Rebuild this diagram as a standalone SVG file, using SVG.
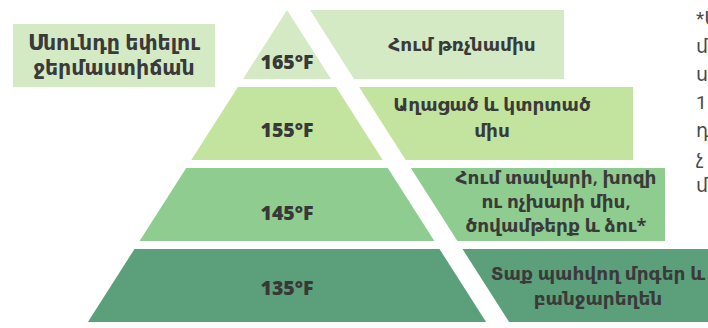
<svg xmlns="http://www.w3.org/2000/svg" width="708" height="328" viewBox="0 0 708 328">
  <style>
    .t1 { fill: #d3eac5; }
    .t2 { fill: #c2e49e; }
    .t3 { fill: #8fcc90; }
    .t4 { fill: #5ca07b; }
    .temp { font-family: "Open Sans", "DejaVu Sans", sans-serif; font-weight: 800; font-size: 19.5px; fill: #383838; text-anchor: middle; }
    .lbl { font-family: "Noto Sans", "DejaVu Sans", sans-serif; font-weight: 600; font-size: 18.5px; fill: #3a3a3a; text-anchor: middle; }
    .title { font-family: "Noto Sans", "DejaVu Sans", sans-serif; font-weight: 600; font-size: 20.5px; fill: #3a3a3a; text-anchor: middle; }
    .note { font-family: "Roboto", "Liberation Sans", "DejaVu Sans", sans-serif; font-size: 19px; fill: #4a4a4a; }
  </style>
  <rect width="708" height="328" fill="#ffffff"/>

  <g id="title">
    <rect class="t1" x="13" y="24" width="202" height="63"/>
    <text class="title" x="114" y="50">Սնունդը եփելու</text>
    <text class="title" x="114" y="75">ջերմաստիճան</text>
  </g>

  <g id="tier-165">
    <polygon class="t1" points="287,10 331,79 243,79"/>
    <polygon class="t1" points="310,10 564,10 564,79 354,79"/>
    <text class="temp" x="287" y="69">165°F</text>
    <text class="lbl" x="462" y="51">Հում թռչնամիս</text>
  </g>

  <g id="tier-155">
    <polygon class="t2" points="237.9,87 336.1,87 382.7,160 191.3,160"/>
    <polygon class="t2" points="359.1,87 633,87 633,160 405.7,160"/>
    <text class="temp" x="287" y="137">155°F</text>
    <text class="lbl" x="492" y="111">Աղացած և կտրտած</text>
    <text class="lbl" x="492" y="137">միս</text>
  </g>

  <g id="tier-145">
    <polygon class="t3" points="186.2,168 387.8,168 434.4,241 139.6,241"/>
    <polygon class="t3" points="410.8,168 665,168 665,241 457.4,241"/>
    <text class="temp" x="287" y="220">145°F</text>
    <text class="lbl" x="556" y="184">Հում տավարի, խոզի</text>
    <text class="lbl" x="556" y="208">ու ոչխարի միս,</text>
    <text class="lbl" x="556" y="232">ծովամթերք և ձու*</text>
  </g>

  <g id="tier-135">
    <polygon class="t4" points="134.5,249 439.5,249 486.1,322 87.9,322"/>
    <polygon class="t4" points="462.5,249 710,249 710,322 509.1,322"/>
    <text class="temp" x="287" y="295">135°F</text>
    <text class="lbl" x="598" y="280">Տաք պահվող մրգեր և</text>
    <text class="lbl" x="598" y="305">բանջարեղեն</text>
  </g>

  <g id="connectors"></g>

  <g id="note">
    <text class="note" x="696" y="25">*Ա</text>
    <text class="note" x="696" y="53">մ</text>
    <text class="note" x="696" y="81">ս</text>
    <text class="note" x="696" y="109">1</text>
    <text class="note" x="696" y="137">դ</text>
    <text class="note" x="696" y="164">չ</text>
    <text class="note" x="696" y="192">մ</text>
  </g>
</svg>
